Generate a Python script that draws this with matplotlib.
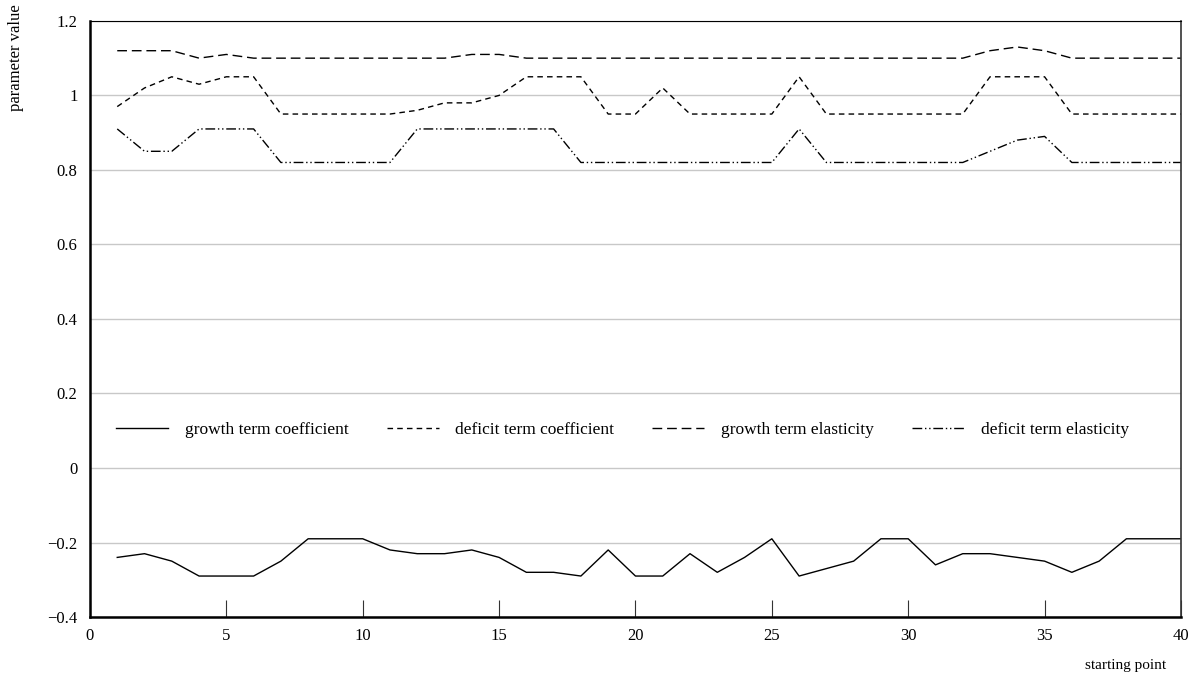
import numpy as np
import matplotlib
matplotlib.use('Agg')
import matplotlib.pyplot as plt

plt.rcParams['font.family'] = ['Liberation Serif', 'DejaVu Serif']
plt.rcParams['axes.unicode_minus'] = True

x = np.arange(1, 41)

growth_coef = [-0.24, -0.23, -0.25, -0.29, -0.29, -0.29, -0.25, -0.19, -0.19, -0.19,
               -0.22, -0.23, -0.23, -0.22, -0.24, -0.28, -0.28, -0.29, -0.22, -0.29,
               -0.29, -0.23, -0.28, -0.24, -0.19, -0.29, -0.27, -0.25, -0.19, -0.19,
               -0.26, -0.23, -0.23, -0.24, -0.25, -0.28, -0.25, -0.19, -0.19, -0.19]
deficit_coef = [0.97, 1.02, 1.05, 1.03, 1.05, 1.05, 0.95, 0.95, 0.95, 0.95,
                0.95, 0.96, 0.98, 0.98, 1.00, 1.05, 1.05, 1.05, 0.95, 0.95,
                1.02, 0.95, 0.95, 0.95, 0.95, 1.05, 0.95, 0.95, 0.95, 0.95,
                0.95, 0.95, 1.05, 1.05, 1.05, 0.95, 0.95, 0.95, 0.95, 0.95]
growth_elas = [1.12, 1.12, 1.12, 1.10, 1.11, 1.10, 1.10, 1.10, 1.10, 1.10,
               1.10, 1.10, 1.10, 1.11, 1.11, 1.10, 1.10, 1.10, 1.10, 1.10,
               1.10, 1.10, 1.10, 1.10, 1.10, 1.10, 1.10, 1.10, 1.10, 1.10,
               1.10, 1.10, 1.12, 1.13, 1.12, 1.10, 1.10, 1.10, 1.10, 1.10]
deficit_elas = [0.91, 0.85, 0.85, 0.91, 0.91, 0.91, 0.82, 0.82, 0.82, 0.82,
                0.82, 0.91, 0.91, 0.91, 0.91, 0.91, 0.91, 0.82, 0.82, 0.82,
                0.82, 0.82, 0.82, 0.82, 0.82, 0.91, 0.82, 0.82, 0.82, 0.82,
                0.82, 0.82, 0.85, 0.88, 0.89, 0.82, 0.82, 0.82, 0.82, 0.82]

labels = ['growth term coefficient', 'deficit term coefficient',
          'growth term elasticity', 'deficit term elasticity']
yticks = [-0.4, -0.2, 0, 0.2, 0.4, 0.6, 0.8, 1.0, 1.2]
ytick_labels = ['\u22120.4', '\u22120.2', '0', '0.2', '0.4', '0.6', '0.8', '1', '1.2']
xticks = [0, 5, 10, 15, 20, 25, 30, 35, 40]

fig = plt.figure(figsize=(11.9, 6.83), dpi=100)
ax = fig.add_axes([0.0756, 0.0966, 0.9168, 0.8728])

ax.plot(x, growth_coef, color='black', lw=1.0, label=labels[0])
ax.plot(x, deficit_coef, color='black', lw=1.0, dashes=(4, 3), label=labels[1])
ax.plot(x, growth_elas, color='black', lw=1.0, dashes=(7, 3.5), label=labels[2])
ax.plot(x, deficit_elas, color='black', lw=1.0, dashes=(7, 2, 1, 2, 1, 2), label=labels[3])

ax.set_xlim(0, 40)
ax.set_ylim(-0.4, 1.2)
ax.set_yticks(yticks)
ax.set_yticklabels(ytick_labels)
ax.set_xticks(xticks)
ax.tick_params(axis='y', length=0, pad=9, labelsize=12)
ax.tick_params(axis='x', direction='in', length=12, width=0.8, color='#333333',
               pad=8, labelsize=12)

ax.yaxis.grid(True, color='#c8c8c8', lw=1.0)
ax.set_axisbelow(True)

ax.spines['left'].set_linewidth(1.8)
ax.spines['bottom'].set_linewidth(1.8)
ax.spines['top'].set_linewidth(0.8)
ax.spines['right'].set_linewidth(1.2)
ax.spines['right'].set_color('#333333')

ax.legend(loc='center', bbox_to_anchor=(0.488, 0.314), ncol=4, frameon=False,
          fontsize=12.5, handlelength=3.0, handletextpad=0.95, columnspacing=2.2)

fig.text(16 / 1190, 1 - 58 / 683, 'parameter value', rotation=90,
         ha='center', va='center', fontsize=12)
fig.text(1126 / 1190, 1 - 665 / 683, 'starting point', ha='center', va='center',
         fontsize=11)

fig.savefig('out.png', dpi=100)
